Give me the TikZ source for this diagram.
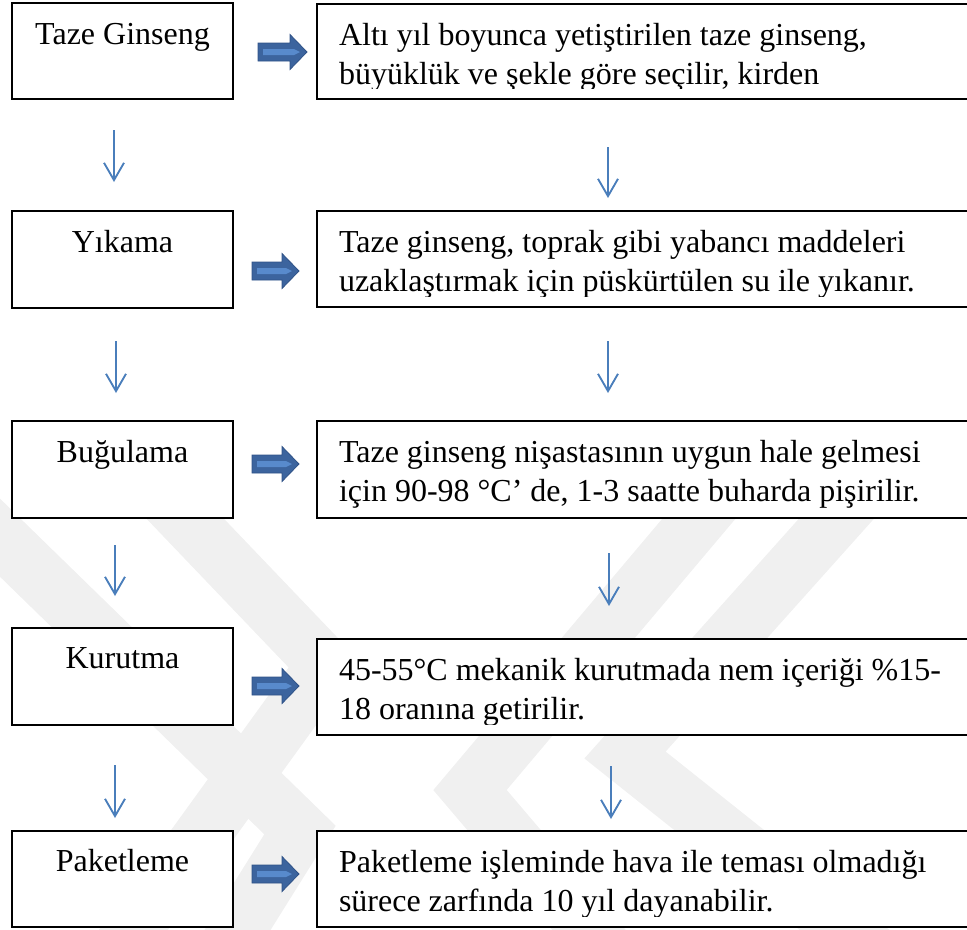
\documentclass[tikz,border=0pt]{standalone}
\usepackage{fontspec}
\setmainfont{Liberation Serif}
\usetikzlibrary{arrows.meta,calc}
\definecolor{thinblue}{RGB}{74,126,187}
\definecolor{arrowfill}{RGB}{60,100,158}
\definecolor{arrowdraw}{RGB}{47,82,135}
\definecolor{arrowhi}{RGB}{88,138,204}
\definecolor{wmgray}{RGB}{240,240,240}
\tikzset{
  box/.style={draw=black, line width=1.5pt, fill=white, rectangle, inner sep=0pt, outer sep=0pt},
  txt/.style={font=\fontsize{24pt}{29pt}\selectfont, inner sep=0pt, outer sep=0pt},
  thinarrow/.style={draw=thinblue, line width=1.4pt, -{Straight Barb[length=13pt,width=15pt]}},
  blockarrow/.style={draw=arrowdraw, fill=arrowfill, line width=0.6pt, line join=miter},
  wm/.style={draw=wmgray, line width=42pt, line join=miter, line cap=butt}
}
% block arrow drawn from a named coordinate (left end, vertical centre)
\newcommand\blockarr[2][47]{%
  \filldraw[blockarrow] (#2) ++(0,-9) -- ++({#1-17},0) -- ++(0,-8.5) -- ++(17,17.5)
    -- ++(-17,17.5) -- ++(0,-8.5) -- ++({-(#1-17)},0) -- cycle;
  \fill[arrowhi] (#2) ++(5,-3) -- ++({#1-18},0) -- ++(6,3) -- ++(-6,3)
    -- ++({-(#1-18)},0) -- cycle;
}
\begin{document}
\begin{tikzpicture}[x=0.75pt,y=-0.75pt]
\useasboundingbox (0,0) rectangle (967,929);
% watermark
\draw[wm] (110,440) -- (325,665) -- (90,990);
\draw[wm] (-90,450) -- (300,830) -- (200,990);
\draw[wm] (880,470) -- (625,755) -- (920,990);
\draw[wm] (740,470) -- (470,790) -- (640,990);

% left boxes
\node[box, minimum width=165.75pt, minimum height=72pt]    (L1) at (122.5,51)    {};
\node[box, minimum width=165.75pt, minimum height=72.75pt] (L2) at (122.5,259.5) {};
\node[box, minimum width=165.75pt, minimum height=72.75pt] (L3) at (122.5,469.5) {};
\node[box, minimum width=165.75pt, minimum height=72.75pt] (L4) at (122.5,676.5) {};
\node[box, minimum width=165.75pt, minimum height=72pt]    (L5) at (122.5,879)   {};

\node[txt, anchor=base] (L1t) at ($(L1.north)+(0,41)$) {Taze Ginseng};
\node[txt, anchor=base] (L2t) at ($(L2.north)+(0,41)$) {Yıkama};
\node[txt, anchor=base] (L3t) at ($(L3.north)+(0,41)$) {Buğulama};
\node[txt, anchor=base] (L4t) at ($(L4.north)+(0,40)$) {Kurutma};
\node[txt, anchor=base] (L5t) at ($(L5.north)+(0,40)$) {Paketleme};

% right boxes
\node[box, minimum width=512.25pt, minimum height=71.25pt] (R1) at (658.5,51.5) {};
\node[box, minimum width=512.25pt, minimum height=72pt]    (R2) at (658.5,259)  {};
\node[box, minimum width=512.25pt, minimum height=72.75pt] (R3) at (658.5,469.5){};
\node[box, minimum width=512.25pt, minimum height=72pt]    (R4) at (658.5,687)  {};
\node[box, minimum width=512.25pt, minimum height=72pt]    (R5) at (658.5,879)  {};

\begin{scope}
\clip (R1.north west) rectangle ($(R1.south east)+(0,-11)$);
\node[txt, anchor=base west] (R1a) at ($(R1.north west)+(22,41)$) {Altı yıl boyunca yetiştirilen taze ginseng,};
\node[txt, anchor=base west] (R1b) at ($(R1.north west)+(22,80)$) {büyüklük ve şekle göre seçilir, kirden};
\end{scope}
\begin{scope}
\clip (R2.north west) rectangle ($(R2.south east)+(0,-11)$);
\node[txt, anchor=base west] (R2a) at ($(R2.north west)+(22,41)$) {Taze ginseng, toprak gibi yabancı maddeleri};
\node[txt, anchor=base west] (R2b) at ($(R2.north west)+(22,80)$) {uzaklaştırmak için püskürtülen su ile yıkanır.};
\end{scope}
\begin{scope}
\clip (R3.north west) rectangle ($(R3.south east)+(0,-11)$);
\node[txt, anchor=base west] (R3a) at ($(R3.north west)+(22,41)$) {Taze ginseng nişastasının uygun hale gelmesi};
\node[txt, anchor=base west] (R3b) at ($(R3.north west)+(22,80)$) {için 90-98 °C’ de, 1-3 saatte buharda pişirilir.};
\end{scope}
\begin{scope}
\clip (R4.north west) rectangle ($(R4.south east)+(0,-11)$);
\node[txt, anchor=base west] (R4a) at ($(R4.north west)+(22,41)$) {45-55°C mekanik kurutmada nem içeriği \%15-};
\node[txt, anchor=base west] (R4b) at ($(R4.north west)+(22,80)$) {18 oranına getirilir.};
\end{scope}
\begin{scope}
\clip (R5.north west) rectangle ($(R5.south east)+(0,-11)$);
\node[txt, anchor=base west] (R5a) at ($(R5.north west)+(22,41)$) {Paketleme işleminde hava ile teması olmadığı};
\node[txt, anchor=base west] (R5b) at ($(R5.north west)+(22,80)$) {sürece zarfında 10 yıl dayanabilir.};
\end{scope}

% block arrows
\coordinate (A1) at (258,52);
\coordinate (A2) at (252,271);
\coordinate (A3) at (252,464);
\coordinate (A4) at (252,686);
\coordinate (A5) at (252,874);
\blockarr[49]{A1}
\blockarr{A2}
\blockarr{A3}
\blockarr{A4}
\blockarr{A5}

% thin arrows, left column
\draw[thinarrow] ($(L1.south)+(-8.5,31)$) -- ($(L2.north)+(-8.5,-29)$);
\draw[thinarrow] ($(L2.south)+(-6.5,33)$) -- ($(L3.north)+(-6.5,-28)$);
\draw[thinarrow] ($(L3.south)+(-7.5,27)$) -- ($(L4.north)+(-7.5,-32)$);
\draw[thinarrow] ($(L4.south)+(-7.5,40)$) -- ($(L5.north)+(-7.5,-13)$);
% thin arrows, right column
\draw[thinarrow] ($(R1.south)+(-50.5,48)$) -- ($(R2.north)+(-50.5,-13)$);
\draw[thinarrow] ($(R2.south)+(-50.5,34)$) -- ($(R3.north)+(-50.5,-28)$);
\draw[thinarrow] ($(R3.south)+(-49.5,35)$) -- ($(R4.north)+(-49.5,-33)$);
\draw[thinarrow] ($(R4.south)+(-47.5,31)$) -- ($(R5.north)+(-47.5,-12)$);
\end{tikzpicture}
\end{document}
